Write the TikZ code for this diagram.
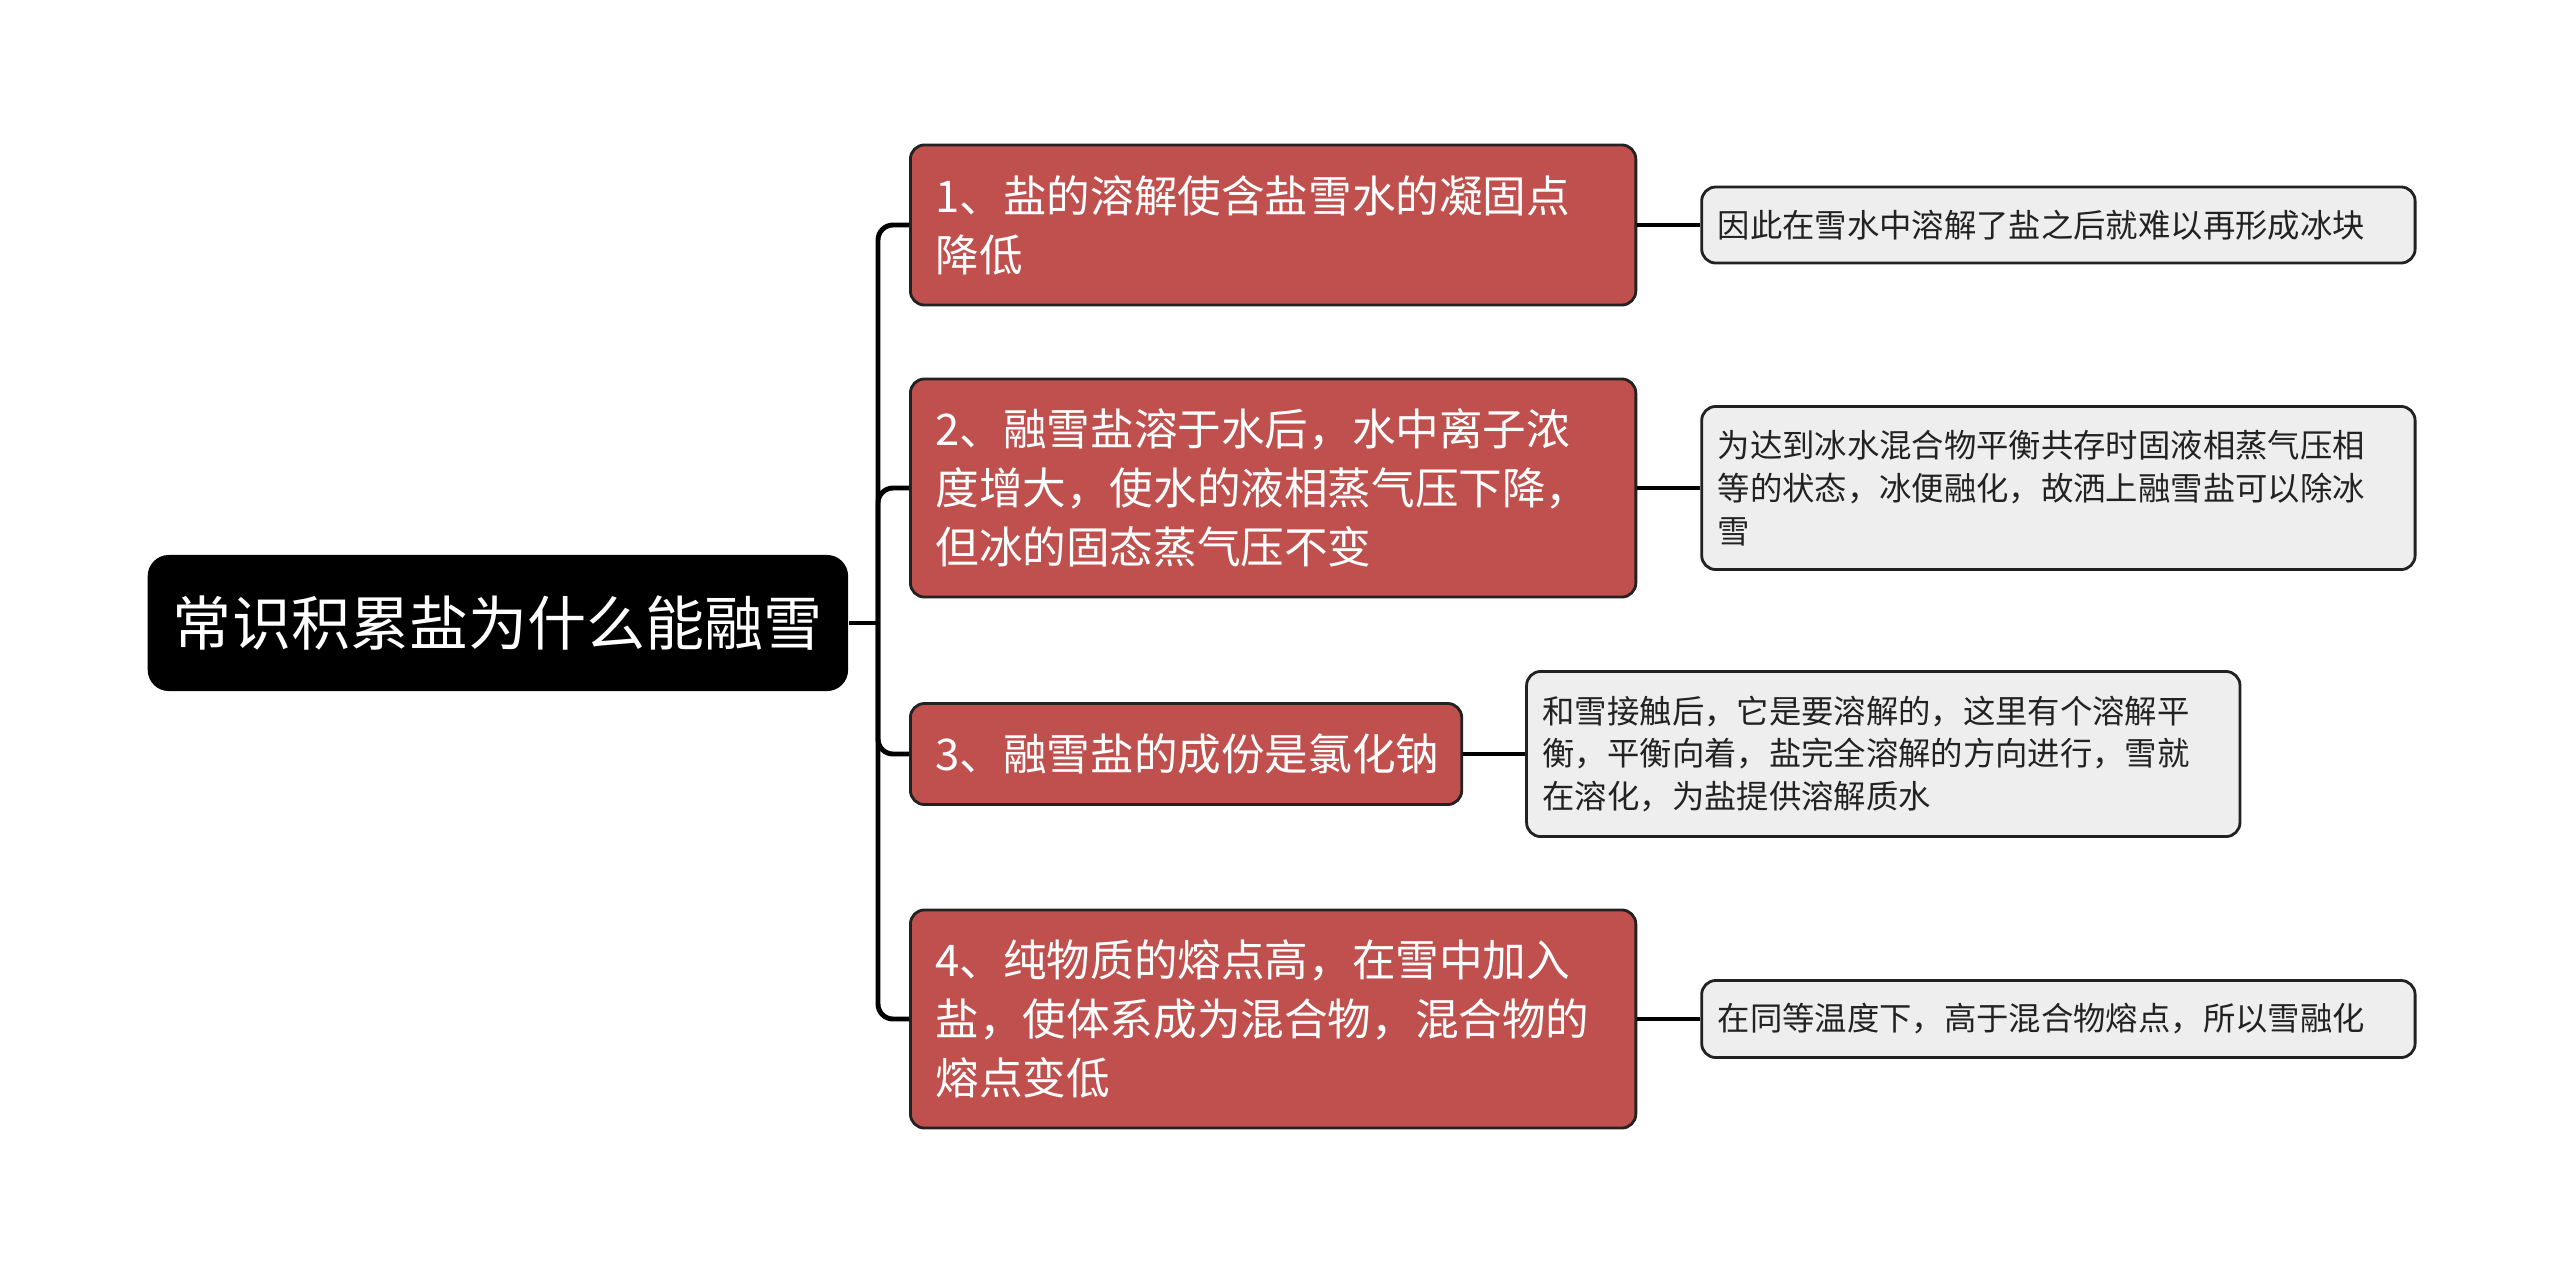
\documentclass[tikz,border=0pt]{standalone}
\usepackage{fontspec}
\setmainfont{Noto Sans CJK SC}
\usepackage{xcolor}
\usepackage{tikz}
\usetikzlibrary{positioning}
\definecolor{topicred}{RGB}{192,80,77}
\definecolor{notegray}{RGB}{238,238,238}
\definecolor{linedark}{RGB}{34,34,34}

\begin{document}
\begin{tikzpicture}[
            x=0.01cm, y=-0.01cm,
            rootbox/.style={rectangle, rounded corners=6pt, fill=black, text=white,
                        inner sep=0pt, font=\fontsize{16.8}{20}\selectfont},
            topic/.style={rectangle, rounded corners=4pt, draw=linedark, line width=0.8pt,
                        fill=topicred, text=white, align=left, inner xsep=0.25cm, inner ysep=0pt,
                        font=\fontsize{12.4}{16.8}\selectfont, text width=6.75cm},
            note/.style={rectangle, rounded corners=4pt, draw=linedark, line width=0.8pt,
                        fill=notegray, text=linedark, align=left, inner xsep=0.16cm, inner ysep=0pt,
                        font=\fontsize{9.2}{12.2}\selectfont, text width=6.81cm},
            conn/.style={draw=black, line width=1.4pt, rounded corners=0.15cm}
        ]
            \useasboundingbox (0,0) rectangle (2560,1275);

            \node[rootbox, anchor=west, minimum width=7cm, minimum height=1.36cm] (root) at (147,623)
                {常识积累盐为什么能融雪};

            % first level
            \node[topic, anchor=west, minimum height=1.6cm] (t1) at (909,225)
                {1、盐的溶解使含盐雪水的凝固点\\降低};
            \node[topic, anchor=west, minimum height=2.18cm] (t2) at (909,488)
                {2、融雪盐溶于水后，水中离子浓\\度增大，使水的液相蒸气压下降，\\但冰的固态蒸气压不变};
            \node[topic, anchor=west, minimum height=1.01cm, text width=5.01cm] (t3) at (909,754)
                {3、融雪盐的成份是氯化钠};
            \node[topic, anchor=west, minimum height=2.18cm] (t4) at (909,1019)
                {4、纯物质的熔点高，在雪中加入\\盐，使体系成为混合物，混合物的\\熔点变低};

            % second level
            \node[note, right=0.63cm of t1, minimum height=0.76cm] (n1)
                {因此在雪水中溶解了盐之后就难以再形成冰块};
            \node[note, right=0.63cm of t2, minimum height=1.63cm] (n2)
                {为达到冰水混合物平衡共存时固液相蒸气压相\\等的状态，冰便融化，故洒上融雪盐可以除冰\\雪};
            \node[note, right=0.62cm of t3, minimum height=1.65cm] (n3)
                {和雪接触后，它是要溶解的，这里有个溶解平\\衡，平衡向着，盐完全溶解的方向进行，雪就\\在溶化，为盐提供溶解质水};
            \node[note, right=0.63cm of t4, minimum height=0.77cm] (n4)
                {在同等温度下，高于混合物熔点，所以雪融化};

            \coordinate (hub) at (878,623);
            \draw[conn] (root.east) -- (hub);
            \foreach \t in {t1,t2,t3,t4}
                \draw[conn] (hub) |- (\t.west);
            \foreach \t/\n in {t1/n1,t2/n2,t3/n3,t4/n4}
                \draw[conn] (\t.east) -- (\n.west);
        \end{tikzpicture}
\end{document}
